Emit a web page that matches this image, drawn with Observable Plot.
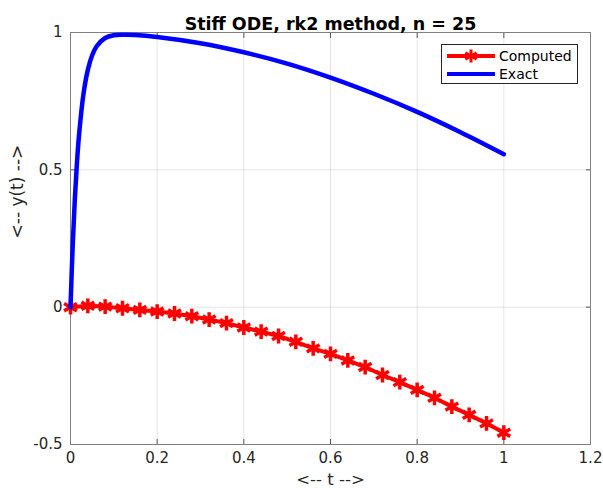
<!DOCTYPE html>
<html>
<head>
<meta charset="utf-8">
<script src="https://cdn.jsdelivr.net/npm/d3@7"></script>
<script src="https://cdn.jsdelivr.net/npm/@observablehq/plot@0.6"></script>
<style>
  html, body { margin: 0; padding: 0; background: #fff; }
  #wrap { position: relative; width: 603px; height: 488px; font-family: "DejaVu Sans", sans-serif; }
  #legend { position: absolute; left: 441px; top: 44px; width: 137px; height: 40px; border: 1px solid #262626; background: #fff; box-sizing: border-box; }
  #legend .row { position: absolute; left: 5px; height: 18px; display: flex; align-items: center; font-size: 14px; color: #000; }
  #legend svg { margin-right: 4px; }
</style>
</head>
<body>
<div id="wrap"></div>
<script>
// ---- data ----
const titleText = "Stiff ODE, rk2 method, n = 25";
const xLabel = "<-- t -->";
const yLabel = "<-- y(t) -->";
const xTicks = [0, 0.2, 0.4, 0.6, 0.8, 1, 1.2];
const xTickLabels = ["0", "0.2", "0.4", "0.6", "0.8", "1", "1.2"];
const yTicks = [-0.5, 0, 0.5, 1];
const yTickLabels = ["-0.5", "0", "0.5", "1"];
const seriesNames = ["Computed", "Exact"];

// Computed (rk2, n = 25)
const tComputed = [0, 0.04, 0.08, 0.12, 0.16, 0.20, 0.24, 0.28, 0.32, 0.36, 0.40, 0.44, 0.48,
                   0.52, 0.56, 0.60, 0.64, 0.68, 0.72, 0.76, 0.80, 0.84, 0.88, 0.92, 0.96, 1.00];
const yComputed = [0, 0.005, 0.002, -0.004, -0.010, -0.016, -0.023, -0.033, -0.045, -0.058, -0.074, -0.089, -0.105,
                   -0.126, -0.150, -0.170, -0.194, -0.218, -0.247, -0.273, -0.301, -0.330, -0.362, -0.392, -0.423, -0.457];

// Exact solution
const tExact = [0, 0.005, 0.01, 0.015, 0.02, 0.03, 0.04, 0.05, 0.06, 0.08, 0.10, 0.12, 0.15,
                0.2, 0.3, 0.4, 0.5, 0.6, 0.7, 0.8, 0.9, 1.0];
const yExact = [0, 0.221, 0.393, 0.528, 0.632, 0.777, 0.864, 0.917, 0.949, 0.980, 0.990, 0.992, 0.991,
                0.984, 0.961, 0.928, 0.887, 0.836, 0.777, 0.711, 0.637, 0.557];

// ---- build ----
const computed = tComputed.map((t, i) => ({t, y: yComputed[i]}));
const exact = tExact.map((t, i) => ({t, y: yExact[i]}));
const xFmt = d => xTickLabels[xTicks.indexOf(d)];
const yFmt = d => yTickLabels[yTicks.indexOf(d)];
const axisColor = "#262626";
const red = "#ff0000", blue = "#0000ff";

const chart = Plot.plot({
  width: 603,
  height: 488,
  marginLeft: 70,
  marginRight: 13,
  marginTop: 32,
  marginBottom: 44,
  style: {fontFamily: "DejaVu Sans, sans-serif", background: "#fff", color: axisColor, overflow: "visible"},
  x: {domain: [0, 1.2]},
  y: {domain: [-0.5, 1]},
  marks: [
    Plot.gridX(xTicks, {stroke: "#000", strokeOpacity: 0.1}),
    Plot.gridY(yTicks, {stroke: "#000", strokeOpacity: 0.1}),
    Plot.axisX(xTicks, {anchor: "bottom", tickSize: 0, tickPadding: 8, tickFormat: xFmt, fontSize: 15, label: null}),
    Plot.axisY(yTicks, {anchor: "left", tickSize: 0, tickPadding: 8, tickFormat: yFmt, fontSize: 15, label: null}),
    Plot.axisX(xTicks, {anchor: "bottom", tickSize: -5, tickFormat: () => "", label: null, stroke: "#555"}),
    Plot.axisX(xTicks, {anchor: "top", tickSize: -5, tickFormat: () => "", label: null, stroke: "#555"}),
    Plot.axisY(yTicks, {anchor: "left", tickSize: -5, tickFormat: () => "", label: null, stroke: "#555"}),
    Plot.axisY(yTicks, {anchor: "right", tickSize: -5, tickFormat: () => "", label: null, stroke: "#555"}),
    Plot.frame({stroke: "#808080", strokeWidth: 1}),
    Plot.line(computed, {x: "t", y: "y", stroke: red, strokeWidth: 4}),
    Plot.dot(computed, {x: "t", y: "y", symbol: "asterisk", r: 7, stroke: red, strokeWidth: 3.5}),
    Plot.line(exact, {x: "t", y: "y", stroke: blue, strokeWidth: 4.5, curve: "catmull-rom"}),
    Plot.text([titleText], {frameAnchor: "top", dy: -15, fontSize: 17.5, fontWeight: "bold", fill: "#000"}),
    Plot.text([xLabel], {frameAnchor: "bottom", dy: 40, fontSize: 16.5, fill: axisColor}),
    Plot.text([yLabel], {frameAnchor: "left", dx: -53, rotate: -90, fontSize: 17, fill: axisColor})
  ]
});

const wrap = document.getElementById("wrap");
wrap.appendChild(chart);

// legend
const legend = document.createElement("div");
legend.id = "legend";
const colors = [red, blue];
seriesNames.forEach((name, i) => {
  const row = document.createElement("div");
  row.className = "row";
  row.style.top = (i === 0 ? 2 : 20) + "px";
  const s = d3.create("svg").attr("width", 48).attr("height", 16);
  s.append("line").attr("x1", 0).attr("x2", 48).attr("y1", 8).attr("y2", 8)
    .attr("stroke", colors[i]).attr("stroke-width", 4);
  if (i === 0) {
    const g = s.append("g").attr("transform", "translate(24,8)").attr("stroke", red).attr("stroke-width", 3);
    for (let a = 0; a < 3; a++) {
      const ang = a * Math.PI / 3 + Math.PI / 2;
      g.append("line").attr("x1", -6.5 * Math.cos(ang)).attr("y1", -6.5 * Math.sin(ang))
        .attr("x2", 6.5 * Math.cos(ang)).attr("y2", 6.5 * Math.sin(ang));
    }
    g.append("line").attr("x1", -6.5).attr("x2", 6.5).attr("y1", 0).attr("y2", 0);
  }
  row.appendChild(s.node());
  const label = document.createElement("span");
  label.textContent = name;
  row.appendChild(label);
  legend.appendChild(row);
});
wrap.appendChild(legend);
</script>
</body>
</html>
